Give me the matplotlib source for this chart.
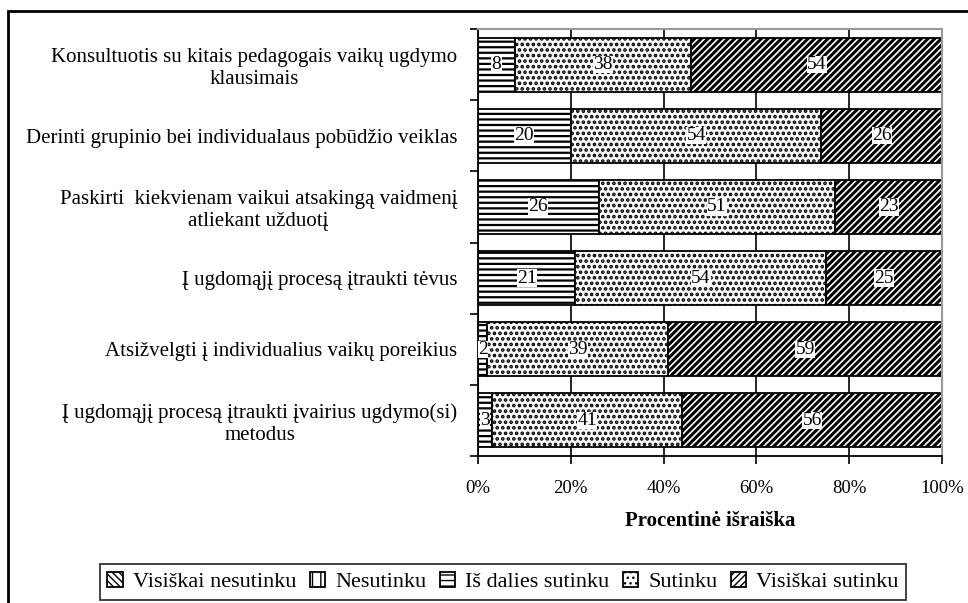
import matplotlib
matplotlib.use("Agg")
import matplotlib.pyplot as plt
import matplotlib.patches as mpatches
import numpy as np

plt.rcParams['font.family'] = ['Liberation Serif', 'DejaVu Serif']

categories = [
    "Konsultuotis su kitais pedagogais vaikų ugdymo\nklausimais",
    "Derinti grupinio bei individualaus pobūdžio veiklas",
    "Paskirti  kiekvienam vaikui atsakingą vaidmenį\natliekant užduotį",
    "Į ugdomąjį procesą įtraukti tėvus",
    "Atsižvelgti į individualius vaikų poreikius",
    "Į ugdomąjį procesą įtraukti įvairius ugdymo(si)\nmetodus",
]
series_names = ["Visiškai nesutinku", "Nesutinku", "Iš dalies sutinku", "Sutinku", "Visiškai sutinku"]
visiskai_nesutinku = [0, 0, 0, 0, 0, 0]
nesutinku = [0, 0, 0, 0, 0, 0]
is_dalies_sutinku = [8, 20, 26, 21, 2, 3]
sutinku = [38, 54, 51, 54, 39, 41]
visiskai_sutinku = [54, 26, 23, 25, 59, 56]
x_ticks = [0, 20, 40, 60, 80, 100]
x_tick_labels = ["0%", "20%", "40%", "60%", "80%", "100%"]

series = [visiskai_nesutinku, nesutinku, is_dalies_sutinku, sutinku, visiskai_sutinku]
hatches = ['\\\\\\\\\\', '||', '---', '...', '/////']
hatch_lw = [2.0, 1.3, 1.6, 1.8, 2.2]

fig = plt.figure(figsize=(9.68, 6.03), dpi=100)
ax = fig.add_axes([478/968, 1-456/603, (942-478)/968, (456-29)/603])

y = np.arange(len(categories))
left = np.zeros(len(categories))
handles = []
for name, vals, h, hlw in zip(series_names, series, hatches, hatch_lw):
    vals = np.array(vals, dtype=float)
    with plt.rc_context({'hatch.linewidth': hlw}):
        bars = ax.barh(y, vals, left=left, height=0.76, color='white', edgecolor='black',
                       linewidth=1.3, hatch=h, label=name, zorder=2)
    handles.append(bars)
    for yi, l, v in zip(y, left, vals):
        if v > 0:
            ax.text(l + v / 2, yi, f"{int(v)}", ha='center', va='center', fontsize=14, zorder=4,
                    bbox=dict(facecolor='white', edgecolor='none', pad=0.2))
    left = left + vals

ax.set_xlim(0, 100)
ax.set_ylim(len(categories) - 0.5, -0.5)
ax.set_xticks(x_ticks)
ax.set_xticklabels(x_tick_labels, fontsize=13.5)
ax.tick_params(axis='x', direction='out', length=6, width=1.2, pad=11)
ax.xaxis.grid(True, color='black', linewidth=1.2, zorder=0)
ax.set_axisbelow(True)

ax.set_yticks(np.arange(-0.5, len(categories), 1.0))
ax.set_yticklabels([])
ax.set_yticks(y, minor=True)
ax.set_yticklabels(categories, minor=True, fontsize=15, multialignment='center')
ax.tick_params(axis='y', which='major', direction='out', length=6, width=1.2)
ax.tick_params(axis='y', which='minor', length=0, pad=15)

for s in ['left', 'bottom']:
    ax.spines[s].set_color('black')
    ax.spines[s].set_linewidth(1.3)
for s in ['top', 'right']:
    ax.spines[s].set_color('#999999')
    ax.spines[s].set_linewidth(1.5)

ax.set_xlabel("Procentinė išraiška", fontsize=15, fontweight='bold', labelpad=10)

leg = fig.legend(handles=handles, loc='center', bbox_to_anchor=(503/968, 1-582/603), ncol=5,
                 fontsize=16, frameon=True, fancybox=False, edgecolor='black',
                 handlelength=0.7, handleheight=0.7, handletextpad=0.45, columnspacing=0.6,
                 borderpad=0.35, borderaxespad=0)
leg.get_frame().set_linewidth(1.3)

border = mpatches.Rectangle((8/968, -0.1), 1.2, 1.1 - 11/603, transform=fig.transFigure,
                            fill=False, edgecolor='black', linewidth=2, clip_on=False)
fig.patches.append(border)

fig.savefig("out.png", dpi=100)
